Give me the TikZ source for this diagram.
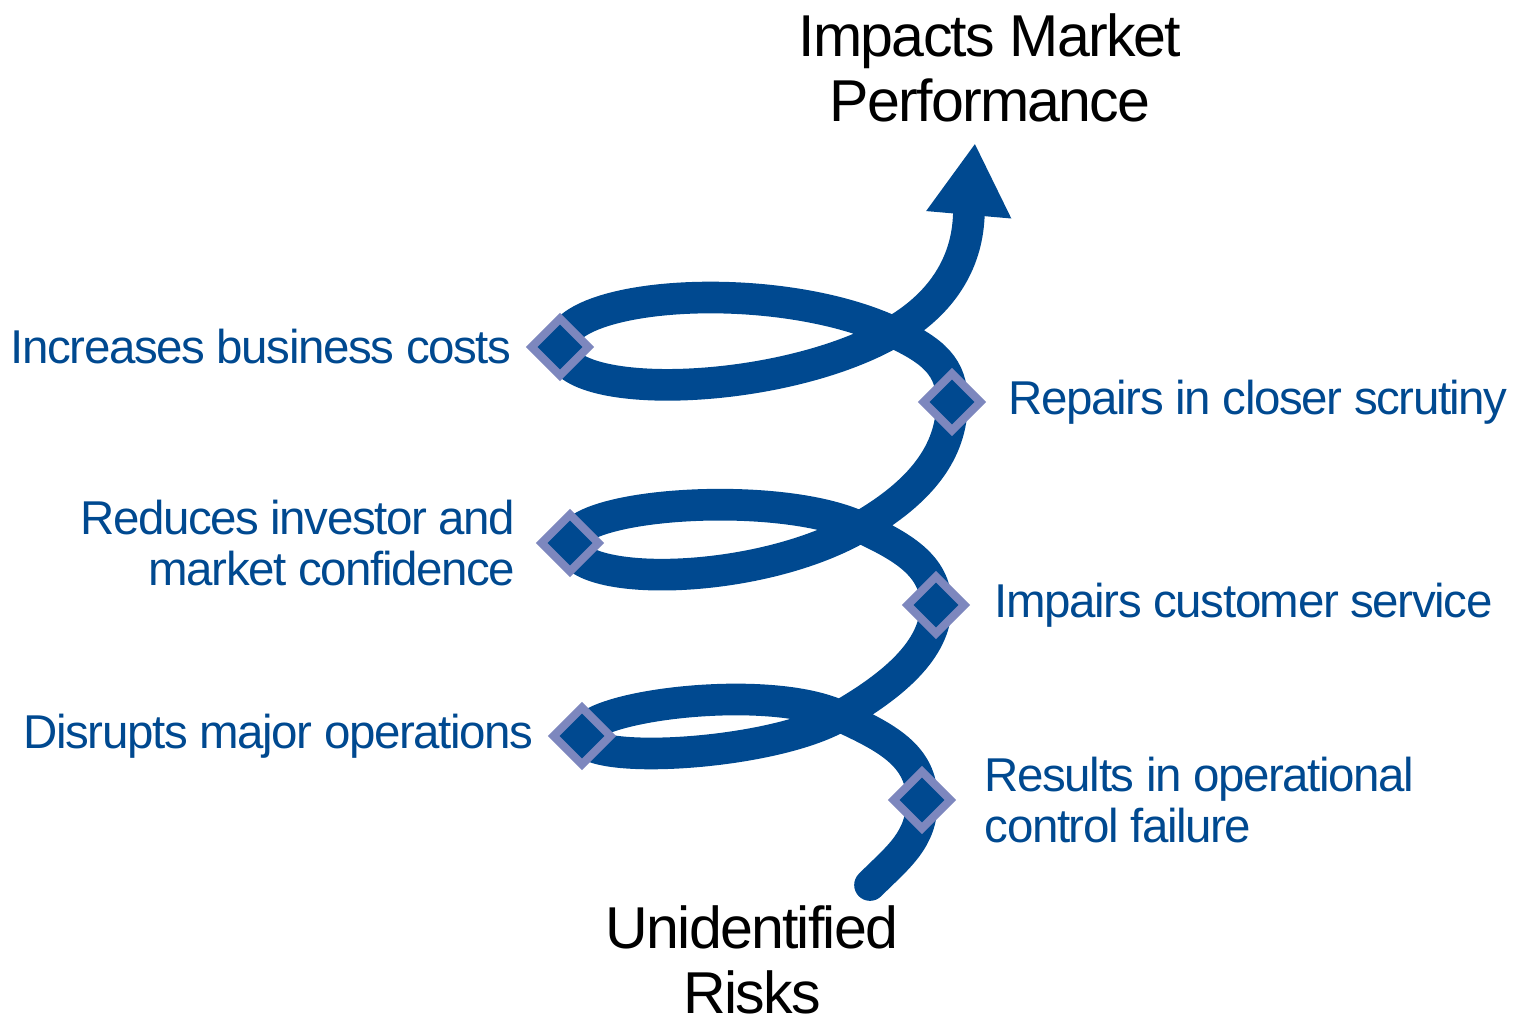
\documentclass[tikz,border=0pt]{standalone}
\usepackage{fontspec}
\setmainfont{Liberation Sans}
\newfontfamily\lblfont[LetterSpace=-3]{Liberation Sans}
\usetikzlibrary{positioning,shapes.geometric,arrows.meta}
\definecolor{spiralblue}{RGB}{0,73,144}
\definecolor{markerrim}{RGB}{125,135,190}
\tikzset{
  spiral/.style={draw=spiralblue, line width=9pt, line cap=round},
  marker/.style={diamond, aspect=1, fill=spiralblue, draw=markerrim,
    line width=2.3pt, minimum size=0.6cm, inner sep=0pt},
  lbl/.style={text=spiralblue, font=\lblfont\fontsize{13.5}{14.6}\selectfont, inner sep=0pt},
  ttl/.style={font=\lblfont\fontsize{16.8}{18.4}\selectfont, align=center, inner sep=0pt},
}

\begin{document}
\begin{tikzpicture}[x=0.01cm, y=0.01cm]
  \useasboundingbox (0,0) rectangle (1515,-1029);

  % points of the spiral, bottom to top
  \coordinate (s)   at (870,-885);
  \coordinate (r3)  at (922,-800);
  \coordinate (c3)  at (840,-716);
  \coordinate (l3)  at (582,-736);
  \coordinate (r2)  at (936,-605);
  \coordinate (c2)  at (860,-527);
  \coordinate (l2)  at (570,-543);
  \coordinate (r1)  at (952,-402);
  \coordinate (c1)  at (893,-332);
  \coordinate (l1)  at (560,-347);
  \coordinate (tip) at (975,-143);

  \draw[spiral, -{Triangle[width=0.8cm,length=0.72cm]}]
    (s)  to[out=45,in=-90,out distance=0.4cm,in distance=0.4cm] (r3)
         to[out=90,in=-25,out distance=0.45cm,in distance=0.5cm] (c3)
         to[out=155,in=90,out distance=0.8cm,in distance=0.3cm] (l3)
         to[out=-90,in=-150,out distance=0.3cm,in distance=0.8cm] (c3)
         to[out=30,in=-90,out distance=0.6cm,in distance=0.45cm] (r2)
         to[out=90,in=-25,out distance=0.4cm,in distance=0.45cm] (c2)
         to[out=155,in=90,out distance=0.9cm,in distance=0.4cm] (l2)
         to[out=-90,in=-150,out distance=0.45cm,in distance=1.2cm] (c2)
         to[out=30,in=-90,out distance=0.7cm,in distance=0.5cm] (r1)
         to[out=90,in=-25,out distance=0.35cm,in distance=0.45cm] (c1)
         to[out=155,in=90,out distance=1.3cm,in distance=0.55cm] (l1)
         to[out=-90,in=-150,out distance=0.55cm,in distance=1.3cm] (c1)
         to[out=30,in=-95,out distance=0.9cm,in distance=0.8cm] (tip);

  % markers on the spiral
  \node[marker] (dl1) at (l1) {};
  \node[marker] (dl2) at (l2) {};
  \node[marker] (dl3) at (l3) {};
  \node[marker] (dr1) at (r1) {};
  \node[marker] (dr2) at (r2) {};
  \node[marker] (dr3) at (r3) {};

  % labels
  \node[lbl, left=0.14cm of dl1] (tl1) {Increases business costs};
  \node[lbl, left=0.2cm of dl2, align=right] (tl2) {Reduces investor and\\market confidence};
  \node[lbl, left=0.14cm of dl3] (tl3) {Disrupts major operations};
  \node[lbl, right=0.22cm of dr1] (tr1) {Repairs in closer scrutiny};
  \node[lbl, right=0.24cm of dr2] (tr2) {Impairs customer service};
  \node[lbl, right=0.28cm of dr3, align=left] (tr3) {Results in operational\\control failure};

  \node[ttl] (goal)  at (990,-68)  {Impacts Market\\Performance};
  \node[ttl] (cause) at (752,-960) {Unidentified\\Risks};
\end{tikzpicture}
\end{document}
